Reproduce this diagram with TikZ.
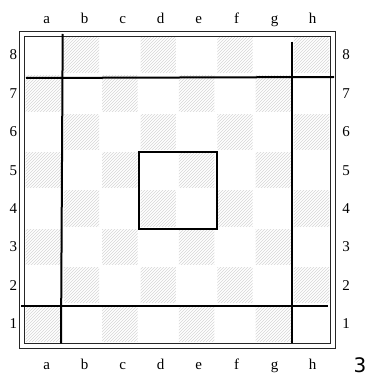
\documentclass[tikz,border=0pt]{standalone}
\usepackage{fontspec}
\setmainfont{Liberation Serif}
\newfontfamily\capfont{DejaVu Sans}
\usetikzlibrary{patterns}
\begin{document}
\begin{tikzpicture}[x=1pt,y=-1pt,
  frameline/.style={draw=black!85,line width=0.8pt},
  heavyline/.style={draw=black,line width=2pt},
  hatch/.style={pattern=north east lines,pattern color=black!16},
  coordlabel/.style={font=\fontsize{15}{15}\selectfont,inner sep=0pt}]
\useasboundingbox (0,0) rectangle (364,374);
\fill[white] (0,0) rectangle (364,374);
\def\bx{24}\def\by{36}\def\sq{38.35}
% dark squares
\foreach \f in {0,...,7}{
  \foreach \r in {0,...,7}{
    \pgfmathtruncatemacro{\sqpar}{mod(\f+\r,2)}
    \ifnum\sqpar=0
      \path[hatch] ({\bx+\f*\sq+1.5},{\by+(7-\r)*\sq+1.5}) rectangle ({\bx+(\f+1)*\sq-1.5},{\by+(8-\r)*\sq-1.5});
    \fi
  }
}
% frames
\draw[frameline] (24,36) rectangle (330.7,343.3);
\draw[frameline] (19.3,31.7) rectangle (335.7,348.3);
% file labels
\foreach \l [count=\i from 0] in {a,b,c,d,e,f,g,h}{
  \node[coordlabel,anchor=base] (top\l) at ({46.7+38*\i},24) {\l};
  \node[coordlabel,anchor=base] (bot\l) at ({46.7+38*\i},369.5) {\l};
}
% rank labels
\foreach \n [count=\i from 0] in {8,7,6,5,4,3,2,1}{
  \node[coordlabel] (left\n) at (13.3,{55+38.4*\i}) {\n};
  \node[coordlabel] (right\n) at (346,{55+38.4*\i}) {\n};
}
% heavy lines
\coordinate (v1a) at (62.7,34);
\coordinate (v1b) at (61,343.3);
\coordinate (h1a) at (26,78);
\coordinate (h1b) at (334,77);
\coordinate (v2a) at (291.7,41.7);
\coordinate (v2b) at (291.7,343.3);
\coordinate (h2a) at (21,306);
\coordinate (h2b) at (328.3,306);
\draw[heavyline] (v1a) -- (v1b);
\draw[heavyline] (h1a) -- (h1b);
\draw[heavyline] (v2a) -- (v2b);
\draw[heavyline] (h2a) -- (h2b);
\draw[heavyline] (139.3,152) rectangle (216.7,228.7);
% cut-off caption digit (cut at the edge, as in the reference)
\node[anchor=west,inner sep=0pt,font=\capfont\fontsize{20}{20}\selectfont] (capnum) at (353.5,365.5) {3};
\end{tikzpicture}
\end{document}
